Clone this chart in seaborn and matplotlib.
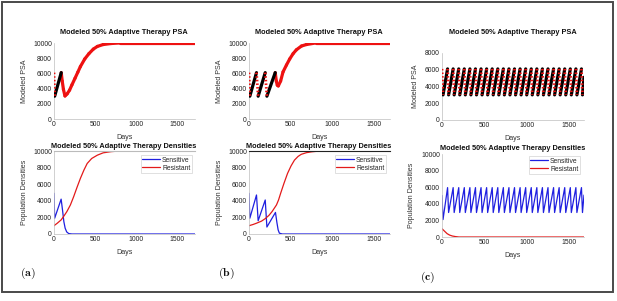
import numpy as np
import pandas as pd
import matplotlib
matplotlib.use("Agg")
import matplotlib.pyplot as plt
import seaborn as sns
from matplotlib.patches import Rectangle
from matplotlib.lines import Line2D

# ---------------- data ----------------
# Panel (a): PSA, segment states: 1 = treatment on (red), 0 = off (black), 2 = fast drop (dotted red)
a_psa_days = [0, 8, 88, 100, 115, 134, 160, 190, 219, 256, 290, 322, 375, 426, 480, 529, 600, 694, 800, 1720]
a_psa_vals = [6100, 3000, 6100, 5000, 3900, 3030, 3300, 3800, 4500, 5350, 6150, 6900, 7900, 8600, 9200, 9550, 9800, 9930, 10000, 10000]
a_psa_on = [2, 0, 1, 1, 1, 1, 1, 1, 1, 1, 1, 1, 1, 1, 1, 1, 1, 1, 1]

a_sens_days = [0, 8, 87, 105, 120, 136, 155, 180, 220, 1720]
a_sens_vals = [4900, 1900, 4200, 2800, 1500, 700, 250, 50, 0, 0]
a_res_days = [0, 40, 87, 120, 157, 200, 240, 280, 322, 365, 405, 460, 529, 600, 694, 800, 1720]
a_res_vals = [1000, 1300, 1700, 2150, 2700, 3500, 4500, 5600, 6700, 7700, 8500, 9100, 9500, 9780, 9920, 10000, 10000]

# Panel (b)
b_psa_days = [0, 10, 90, 110, 195, 215, 315, 328, 340, 352, 380, 409, 450, 489, 530, 569, 630, 690, 800, 1700]
b_psa_vals = [6100, 3000, 6100, 3000, 6100, 3000, 6100, 5000, 4450, 4350, 5000, 6200, 7100, 7900, 8600, 9100, 9600, 9800, 10000, 10000]
b_psa_on = [2, 0, 2, 0, 2, 0, 1, 1, 1, 1, 1, 1, 1, 1, 1, 1, 1, 1, 1]

b_sens_days = [0, 10, 90, 110, 195, 215, 318, 335, 350, 365, 400, 1700]
b_sens_vals = [4900, 1900, 4700, 1600, 4100, 840, 2600, 1400, 500, 100, 0, 0]
b_res_days = [0, 50, 90, 150, 195, 240, 277, 330, 355, 380, 420, 463, 505, 546, 590, 628, 690, 752, 850, 1700]
b_res_vals = [1000, 1150, 1300, 1550, 1850, 2250, 2700, 3500, 4100, 4900, 6100, 7300, 8200, 8900, 9350, 9600, 9800, 9900, 10000, 10000]

# Panel (c): cycling between ~3000 and ~6000
c_peak_days = [66, 132, 198, 264, 330, 396, 462, 528, 594, 660, 726, 792, 858, 924, 990,
               1056, 1122, 1188, 1254, 1320, 1386, 1452, 1518, 1584, 1650]
c_trough_days = [12, 78, 144, 210, 276, 342, 408, 474, 540, 606, 672, 738, 804, 870, 936, 1002,
                 1068, 1134, 1200, 1266, 1332, 1398, 1464, 1530, 1596, 1662]
c_psa_high = [6100]
c_psa_low = [3000]
c_sens_high = [5950]
c_sens_low = [2950]
c_sens_start = [5000, 2100]
c_end_day = [1680]
c_end_psa = [5100]
c_res_days = [0, 30, 61, 90, 122, 160, 200, 1680]
c_res_vals = [1000, 700, 400, 230, 120, 50, 0, 0]

yticks_10k = [0, 2000, 4000, 6000, 8000, 10000]
yticks_8k = [0, 2000, 4000, 6000, 8000]
xticks = [0, 500, 1000, 1500]

# ---------------- style ----------------
sns.set_theme(style="white")
plt.rcParams['font.family'] = ['Liberation Sans', 'DejaVu Sans']
plt.rcParams['mathtext.fontset'] = 'cm'

W, H = 617, 301
fig = plt.figure(figsize=(W / 100, H / 100), dpi=100)
fig.patch.set_facecolor('white')

# outer frame
fig.patches.append(Rectangle((2 / W, 1 - 292 / H), 611 / W, 290 / H, transform=fig.transFigure,
                             fill=False, edgecolor='#4a4a4a', lw=1.4))

def add_ax(x0, x1, ytop, ybot):
    return fig.add_axes([x0 / W, 1 - ybot / H, (x1 - x0) / W, (ybot - ytop) / H])

FS = 4.9
SPINE = '#bdbdbd'
RED = '#ee1111'

def style_ax(ax, xmax, ymax, yt, ylab, ylab_x, xlab_y, topcol=None):
    ax.set_xlim(0, xmax)
    ax.set_ylim(0, ymax)
    ax.set_xticks(xticks)
    ax.set_yticks(yt)
    ax.set_xticklabels([str(v) for v in xticks])
    ax.set_yticklabels([str(v) for v in yt])
    ax.tick_params(axis='both', labelsize=FS, length=1.5, width=0.4, color='#888888',
                   direction='in', pad=1.5, labelcolor='#222222')
    for s in ['left', 'bottom']:
        ax.spines[s].set_color(SPINE)
        ax.spines[s].set_linewidth(0.5)
    ax.spines['right'].set_visible(False)
    if topcol:
        ax.spines['top'].set_color(topcol)
        ax.spines['top'].set_linewidth(0.8)
    else:
        ax.spines['top'].set_visible(False)
    ax.set_facecolor('white')
    ax.set_xlabel('Days', fontsize=FS + 0.2, color='#333333')
    ax.set_ylabel(ylab, fontsize=FS + 0.2, color='#333333')
    ax.xaxis.set_label_coords(0.5, xlab_y)
    ax.yaxis.set_label_coords(ylab_x, 0.5)

def draw_psa(ax, days, vals, states):
    for i, st in enumerate(states):
        seg = pd.DataFrame({'Days': days[i:i + 2], 'PSA': vals[i:i + 2]})
        if st == 0:
            sns.lineplot(data=seg, x='Days', y='PSA', ax=ax, color='black', lw=2.3,
                         estimator=None, sort=False, zorder=3)
        elif st == 1:
            sns.lineplot(data=seg, x='Days', y='PSA', ax=ax, color=RED, lw=2.3,
                         estimator=None, sort=False, zorder=2)
        else:
            sns.lineplot(data=seg, x='Days', y='PSA', ax=ax, color=RED, lw=2.0,
                         linestyle=(0, (0.55, 0.75)), dash_capstyle='butt',
                         estimator=None, sort=False, zorder=4)

def draw_dens(ax, sd, sv, rd, rv, leg_right, leg_top):
    df_s = pd.DataFrame({'Days': sd, 'Density': sv})
    df_r = pd.DataFrame({'Days': rd, 'Density': rv})
    sns.lineplot(data=df_s, x='Days', y='Density', ax=ax, color='#1f1fe0', lw=0.9,
                 estimator=None, sort=False)
    sns.lineplot(data=df_r, x='Days', y='Density', ax=ax, color='#e31a1a', lw=0.9,
                 estimator=None, sort=False)
    handles = [Line2D([], [], color='#1f1fe0', lw=0.9), Line2D([], [], color='#e31a1a', lw=0.9)]
    leg = ax.legend(handles, ['Sensitive', 'Resistant'], loc='upper right',
                    bbox_to_anchor=(leg_right / W, 1 - leg_top / H), bbox_transform=fig.transFigure,
                    fontsize=FS, frameon=True, fancybox=False, edgecolor='#c8c8c8',
                    handlelength=2.6, handletextpad=0.3, borderpad=0.25, labelspacing=0.15,
                    borderaxespad=0)
    leg.get_frame().set_linewidth(0.5)

# ---- Panel (a)
ax = add_ax(54, 195, 43, 119)
draw_psa(ax, a_psa_days, a_psa_vals, a_psa_on)
style_ax(ax, 1720, 10000, yticks_10k, 'Modeled PSA', -0.184, -0.2)
ax = add_ax(54, 195, 151, 234)
draw_dens(ax, a_sens_days, a_sens_vals, a_res_days, a_res_vals, 192, 155)
style_ax(ax, 1720, 10000, yticks_10k, 'Population Densities', -0.184, -0.18, topcol='#bbbbbb')

# ---- Panel (b)
ax = add_ax(249, 390.5, 43, 119)
draw_psa(ax, b_psa_days, b_psa_vals, b_psa_on)
style_ax(ax, 1700, 10000, yticks_10k, 'Modeled PSA', -0.187, -0.2)
ax = add_ax(249, 390.5, 151, 234)
draw_dens(ax, b_sens_days, b_sens_vals, b_res_days, b_res_vals, 386, 155)
style_ax(ax, 1700, 10000, yticks_10k, 'Population Densities', -0.187, -0.18, topcol='#222222')

# ---- Panel (c)
c_days = [0]
c_psa = [c_psa_high[0]]
c_sens = [c_sens_start[0]]
c_states = []
for k, tr in enumerate(c_trough_days):
    c_days.append(tr)
    c_psa.append(c_psa_low[0])
    c_sens.append(c_sens_start[1] if k == 0 else c_sens_low[0])
    c_states.append(2)
    if k < len(c_peak_days):
        c_days.append(c_peak_days[k])
        c_psa.append(c_psa_high[0])
        c_sens.append(c_sens_high[0])
        c_states.append(0)
c_days.append(c_end_day[0])
c_psa.append(c_end_psa[0])
c_sens.append(c_end_psa[0] - 50)
c_states.append(0)

ax = add_ax(442, 584, 53, 120)
draw_psa(ax, c_days, c_psa, c_states)
style_ax(ax, 1680, 8000, yticks_8k, 'Modeled PSA', -0.162, -0.225)
ax = add_ax(442, 584, 154, 237)
draw_dens(ax, c_days, c_sens, c_res_days, c_res_vals, 580, 156)
style_ax(ax, 1680, 10000, yticks_10k, 'Population Densities', -0.19, -0.177)

# ---- titles
tkw = dict(ha='center', va='center', fontsize=5.3, fontweight='bold', color='#111111')
fig.text(124 / W, 1 - 32 / H, 'Modeled 50% Adaptive Therapy PSA', **tkw)
fig.text(124 / W, 1 - 147 / H, 'Modeled 50% Adaptive Therapy Densities', **tkw)
fig.text(319 / W, 1 - 32 / H, 'Modeled 50% Adaptive Therapy PSA', **tkw)
fig.text(319 / W, 1 - 147 / H, 'Modeled 50% Adaptive Therapy Densities', **tkw)
fig.text(513 / W, 1 - 32 / H, 'Modeled 50% Adaptive Therapy PSA', **tkw)
fig.text(513 / W, 1 - 149 / H, 'Modeled 50% Adaptive Therapy Densities', **tkw)

# ---- panel letters
lkw = dict(ha='center', va='center', fontsize=8.5, color='#111111')
fig.text(28 / W, 1 - 273 / H, r'$\mathbf{(a)}$', **lkw)
fig.text(226 / W, 1 - 273 / H, r'$\mathbf{(b)}$', **lkw)
fig.text(428 / W, 1 - 277 / H, r'$\mathbf{(c)}$', **lkw)

fig.savefig('out.png', dpi=100, facecolor='white')
